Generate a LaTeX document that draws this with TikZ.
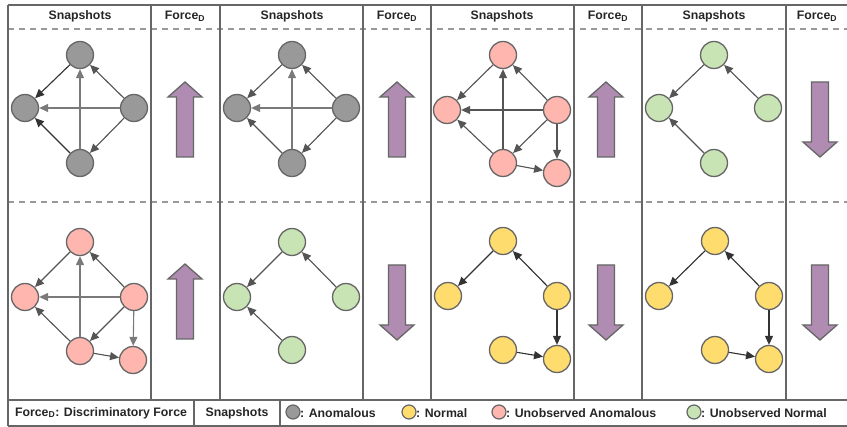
\documentclass[tikz,border=0pt]{standalone}
\usepackage{fontspec}
\setmainfont{Liberation Sans}
\usetikzlibrary{arrows.meta}
\definecolor{framec}{HTML}{666666}
\definecolor{dashc}{HTML}{999999}
\definecolor{anom}{HTML}{999999}
\definecolor{uanom}{HTML}{FFB6AE}
\definecolor{norm}{HTML}{FFDC6E}
\definecolor{unorm}{HTML}{C9E4B4}
\definecolor{forcec}{HTML}{B08CB2}
\definecolor{edark}{HTML}{333333}
\definecolor{emid}{HTML}{555555}
\definecolor{elight}{HTML}{7A7A7A}
\tikzset{
 vtx/.style={circle, draw=framec, line width=1.3pt, minimum size=27pt, inner sep=0pt},
 an/.style={vtx, fill=anom}, ua/.style={vtx, fill=uanom},
 nm/.style={vtx, fill=norm}, un/.style={vtx, fill=unorm},
 lvtx/.style={circle, draw=framec, line width=1.2pt, minimum size=14pt, inner sep=0pt},
 ed/.style={-{Triangle[length=9pt,width=8pt]}, line width=1.1pt, draw=emid, fill=emid},
 edl/.style={ed, draw=elight, fill=elight},
 edd/.style={ed, draw=edark, fill=edark},
 lab/.style={font=\bfseries\fontsize{12.3}{14}\selectfont, text=black!85, inner sep=0pt},
 thinln/.style={draw=framec, line width=1.6pt},
 thickln/.style={draw=framec, line width=2.4pt},
 dashln/.style={draw=dashc, line width=1.2pt, dash pattern=on 6pt off 5pt},
 farrow/.style={draw=framec, line width=1.3pt, fill=forcec, line join=miter},
 fup/.pic={\path[farrow] (0,0) -- (17,15) -- (8.5,15) -- (8.5,75) -- (-8.5,75) -- (-8.5,15) -- (-17,15) -- cycle;},
 fdown/.pic={\path[farrow] (0,0) -- (17,-15) -- (8.5,-15) -- (8.5,-75) -- (-8.5,-75) -- (-8.5,-15) -- (-17,-15) -- cycle;}
}
\begin{document}
\begin{tikzpicture}[x=1pt,y=-1pt]
\useasboundingbox (0,0) rectangle (847,427);
\fill[white] (0,0) rectangle (847,427);
% dashed lines
\draw[dashln] (8,29) -- (850,29);
\draw[dashln] (8,202) -- (850,202);
% frame
\draw[thinln] (8,5) -- (852,5);
\draw[thinln] (8,400) -- (852,400);
\draw[thinln] (8,426) -- (852,426);
\draw[thinln] (8,5) -- (8,426);
\foreach \x in {151,363,574,786} \draw[thinln] (\x,5) -- (\x,400);
\foreach \x in {220,431,642} \draw[thickln] (\x,5) -- (\x,400);
\draw[thinln] (194,400) -- (194,426);
\draw[thinln] (280,400) -- (280,426);
% headers
\foreach \c/\f [count=\i] in {80/185,292/397,502/608,714/817}{
  \node[lab] (hs\i) at (\c,16) {Snapshots};
  \node[lab] (hf\i) at (\f,16) {Force\textsubscript{D}};
}
% force arrows
\pic at (185,82) {fup};
\pic at (397,82) {fup};
\pic at (606,82) {fup};
\pic at (820,157) {fdown};
\pic at (185,264) {fup};
\pic at (397,340) {fdown};
\pic at (606,340) {fdown};
\pic at (820,340) {fdown};
% panel 1 top
\node[an] (a1t) at (80,55) {};
\node[an] (a1l) at (25,108) {};
\node[an] (a1r) at (134,108) {};
\node[an] (a1b) at (80,163) {};
\draw[edd] (a1t) -- (a1l);
\draw[ed] (a1r) -- (a1t);
\draw[edl] (a1r) -- (a1l);
\draw[edl] (a1b) -- (a1t);
\draw[ed] (a1r) -- (a1b);
\draw[edd] (a1b) -- (a1l);
% panel 1 bottom
\node[ua] (b1t) at (80,242) {};
\node[ua] (b1l) at (25,297) {};
\node[ua] (b1r) at (134,297) {};
\node[ua] (b1b) at (80,351) {};
\node[ua] (b1e) at (133,360) {};
\draw[ed] (b1t) -- (b1l);
\draw[ed] (b1r) -- (b1t);
\draw[edl] (b1r) -- (b1l);
\draw[edl] (b1b) -- (b1t);
\draw[ed] (b1r) -- (b1b);
\draw[ed] (b1b) -- (b1l);
\draw[edl] (b1r) -- (b1e);
\draw[ed] (b1b) -- (b1e);
% panel 2 top
\node[an] (a2t) at (292,55) {};
\node[an] (a2l) at (237,108) {};
\node[an] (a2r) at (346,108) {};
\node[an] (a2b) at (292,163) {};
\draw[ed] (a2t) -- (a2l);
\draw[ed] (a2r) -- (a2t);
\draw[edl] (a2r) -- (a2l);
\draw[edl] (a2b) -- (a2t);
\draw[ed] (a2r) -- (a2b);
\draw[ed] (a2b) -- (a2l);
% panel 2 bottom
\node[un] (b2t) at (292,242) {};
\node[un] (b2l) at (237,297) {};
\node[un] (b2r) at (346,297) {};
\node[un] (b2b) at (292,350) {};
\draw[ed] (b2t) -- (b2l);
\draw[ed] (b2r) -- (b2t);
\draw[ed] (b2b) -- (b2l);
% panel 3 top
\node[ua] (a3t) at (503,55) {};
\node[ua] (a3l) at (447,110) {};
\node[ua] (a3r) at (557,110) {};
\node[ua] (a3b) at (503,163) {};
\node[ua] (a3e) at (557,173) {};
\draw[ed] (a3t) -- (a3l);
\draw[ed] (a3r) -- (a3t);
\draw[ed] (a3r) -- (a3l);
\draw[ed] (a3b) -- (a3t);
\draw[ed] (a3r) -- (a3b);
\draw[ed] (a3b) -- (a3l);
\draw[ed] (a3r) -- (a3e);
\draw[ed] (a3b) -- (a3e);
% panel 3 bottom
\node[nm] (b3t) at (503,241) {};
\node[nm] (b3l) at (448,296) {};
\node[nm] (b3r) at (557,296) {};
\node[nm] (b3a) at (503,350) {};
\node[nm] (b3e) at (557,359) {};
\draw[edd] (b3t) -- (b3l);
\draw[edd] (b3r) -- (b3t);
\draw[edd] (b3r) -- (b3e);
\draw[edd] (b3a) -- (b3e);
% panel 4 top
\node[un] (a4t) at (714,55) {};
\node[un] (a4l) at (659,108) {};
\node[un] (a4r) at (768,108) {};
\node[un] (a4b) at (714,163) {};
\draw[ed] (a4t) -- (a4l);
\draw[ed] (a4r) -- (a4t);
\draw[ed] (a4b) -- (a4l);
% panel 4 bottom
\node[nm] (b4t) at (715,241) {};
\node[nm] (b4l) at (659,296) {};
\node[nm] (b4r) at (769,296) {};
\node[nm] (b4a) at (715,350) {};
\node[nm] (b4e) at (769,359) {};
\draw[edd] (b4t) -- (b4l);
\draw[edd] (b4r) -- (b4t);
\draw[edd] (b4r) -- (b4e);
\draw[edd] (b4a) -- (b4e);
% legend
\node[lab] (lg1) at (101,413) {Force\textsubscript{D}: Discriminatory Force};
\node[lab] (lg2) at (237,413) {Snapshots};
\node[lvtx, fill=anom] (lc1) at (293,412) {};
\node[lab, anchor=west] (lt1) at (300,413) {: Anomalous};
\node[lvtx, fill=norm] (lc2) at (409,412) {};
\node[lab, anchor=west] (lt2) at (416,413) {: Normal};
\node[lvtx, fill=uanom] (lc3) at (499,412) {};
\node[lab, anchor=west] (lt3) at (506,413) {: Unobserved Anomalous};
\node[lvtx, fill=unorm] (lc4) at (694,412) {};
\node[lab, anchor=west] (lt4) at (701,413) {: Unobserved Normal};
\end{tikzpicture}
\end{document}
